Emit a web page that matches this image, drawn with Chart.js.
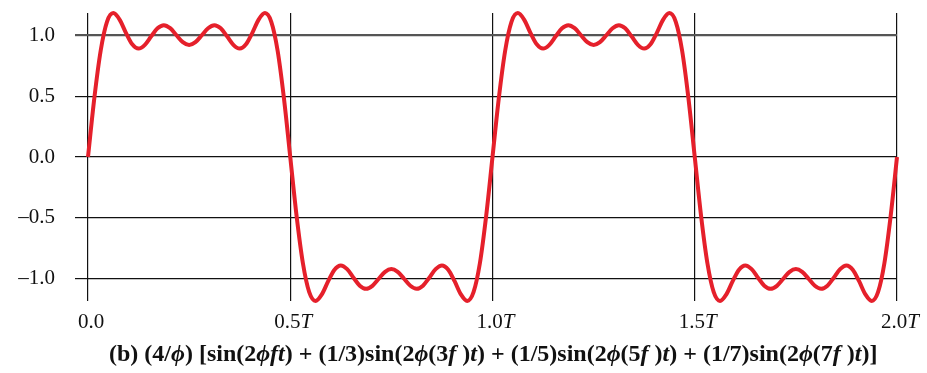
<!DOCTYPE html>
<html>
<head>
<meta charset="utf-8">
<script src="https://cdn.jsdelivr.net/npm/chart.js@4.4.0/dist/chart.umd.min.js"></script>
<style>
    body { margin: 0; background: #fff; }
    #wrap { position: relative; width: 927px; height: 373px; }
    #caption {
        position: absolute;
        left: 109px;
        top: 341px;
        font: bold 24px 'Liberation Serif', 'Times New Roman', serif;
        line-height: 1;
        white-space: nowrap;
        color: #111;
    }
</style>
</head>
<body>
<div id="wrap">
    <canvas id="waveChart" width="927" height="373"></canvas>
    <div id="caption">(b) (4/<i>ϕ</i>) [sin(2<i>ϕft</i>) + (1/3)sin(2<i>ϕ</i>(3<i>f</i> )<i>t</i>) + (1/5)sin(2<i>ϕ</i>(5<i>f</i> )<i>t</i>) + (1/7)sin(2<i>ϕ</i>(7<i>f</i> )<i>t</i>)]</div>
</div>
<script>
// time in units of T
const timeValues = [
    0, 0.0156, 0.0313, 0.0469, 0.0625, 0.0781, 0.0938, 0.1094, 0.125, 0.1406, 0.1563, 0.1719, 0.1875, 0.2031, 0.2188, 0.2344,
    0.25, 0.2656, 0.2813, 0.2969, 0.3125, 0.3281, 0.3438, 0.3594, 0.375, 0.3906, 0.4063, 0.4219, 0.4375, 0.4531, 0.4688, 0.4844,
    0.5, 0.5156, 0.5313, 0.5469, 0.5625, 0.5781, 0.5938, 0.6094, 0.625, 0.6406, 0.6563, 0.6719, 0.6875, 0.7031, 0.7188, 0.7344,
    0.75, 0.7656, 0.7813, 0.7969, 0.8125, 0.8281, 0.8438, 0.8594, 0.875, 0.8906, 0.9063, 0.9219, 0.9375, 0.9531, 0.9688, 0.9844,
    1, 1.0156, 1.0313, 1.0469, 1.0625, 1.0781, 1.0938, 1.1094, 1.125, 1.1406, 1.1563, 1.1719, 1.1875, 1.2031, 1.2188, 1.2344,
    1.25, 1.2656, 1.2813, 1.2969, 1.3125, 1.3281, 1.3438, 1.3594, 1.375, 1.3906, 1.4063, 1.4219, 1.4375, 1.4531, 1.4688, 1.4844,
    1.5, 1.5156, 1.5313, 1.5469, 1.5625, 1.5781, 1.5938, 1.6094, 1.625, 1.6406, 1.6563, 1.6719, 1.6875, 1.7031, 1.7188, 1.7344,
    1.75, 1.7656, 1.7813, 1.7969, 1.8125, 1.8281, 1.8438, 1.8594, 1.875, 1.8906, 1.9063, 1.9219, 1.9375, 1.9531, 1.9688, 1.9844,
    2
];

// summed signal at each time
const signalValues = [
    0, 0.483, 0.874, 1.112, 1.184, 1.131, 1.022, 0.927, 0.892, 0.923, 0.993, 1.059, 1.085, 1.060, 1.002, 0.945,
    0.922, 0.945, 1.002, 1.060, 1.085, 1.059, 0.993, 0.923, 0.892, 0.927, 1.022, 1.131, 1.184, 1.112, 0.874, 0.483,
    0, -0.483, -0.874, -1.112, -1.184, -1.131, -1.022, -0.927, -0.892, -0.923, -0.993, -1.059, -1.085, -1.060, -1.002, -0.945,
    -0.922, -0.945, -1.002, -1.060, -1.085, -1.059, -0.993, -0.923, -0.892, -0.927, -1.022, -1.131, -1.184, -1.112, -0.874, -0.483,
    0, 0.483, 0.874, 1.112, 1.184, 1.131, 1.022, 0.927, 0.892, 0.923, 0.993, 1.059, 1.085, 1.060, 1.002, 0.945,
    0.922, 0.945, 1.002, 1.060, 1.085, 1.059, 0.993, 0.923, 0.892, 0.927, 1.022, 1.131, 1.184, 1.112, 0.874, 0.483,
    0, -0.483, -0.874, -1.112, -1.184, -1.131, -1.022, -0.927, -0.892, -0.923, -0.993, -1.059, -1.085, -1.060, -1.002, -0.945,
    -0.922, -0.945, -1.002, -1.060, -1.085, -1.059, -0.993, -0.923, -0.892, -0.927, -1.022, -1.131, -1.184, -1.112, -0.874, -0.483,
    0
];

const xTicks = [0, 0.5, 1, 1.5, 2];
const xTickLabels = ['0.0', '0.5', '1.0', '1.5', '2.0'];
const yTicks = [-1, -0.5, 0, 0.5, 1];

const serif = "'Liberation Serif', 'Times New Roman', serif";

// x labels need an italic T, so draw them by hand at the scale positions
const xLabelPlugin = {
    id: 'xLabels',
    afterDraw(chart) {
        const ctx = chart.ctx;
        const xs = chart.scales.x;
        ctx.save();
        ctx.fillStyle = '#111';
        ctx.textBaseline = 'alphabetic';
        ctx.textAlign = 'left';
        xTicks.forEach((v, i) => {
            const num = xTickLabels[i];
            const unit = v === 0 ? '' : 'T';
            ctx.font = '21px ' + serif;
            const w1 = ctx.measureText(num).width;
            ctx.font = 'italic 21px ' + serif;
            const w2 = unit ? ctx.measureText(unit).width : 0;
            const left = xs.getPixelForValue(v) + 3 - (w1 + w2) / 2;
            ctx.font = '21px ' + serif;
            ctx.fillText(num, left, 328);
            if (unit) {
                ctx.font = 'italic 21px ' + serif;
                ctx.fillText(unit, left + w1, 328);
            }
        });
        ctx.restore();
    }
};

const ctx = document.getElementById('waveChart').getContext('2d');
new Chart(ctx, {
    type: 'line',
    data: {
        datasets: [{
            data: timeValues.map((t, i) => ({ x: t, y: signalValues[i] })),
            borderColor: '#e5202b',
            borderWidth: 4,
            pointRadius: 0,
            cubicInterpolationMode: 'monotone',
            fill: false,
            clip: false
        }]
    },
    options: {
        responsive: false,
        animation: false,
        events: [],
        layout: { padding: { left: 0, right: 30, top: 13, bottom: 0 } },
        plugins: { legend: { display: false }, tooltip: { enabled: false } },
        scales: {
            x: {
                type: 'linear',
                min: 0,
                max: 2,
                afterBuildTicks: scale => { scale.ticks = xTicks.map(v => ({ value: v })); },
                afterFit: scale => {
                    scale.height = 72;
                    scale.paddingLeft = 0;
                    scale.paddingRight = 0;
                },
                ticks: { display: false },
                border: { display: false },
                grid: { color: '#111', lineWidth: 1.2, drawTicks: false }
            },
            y: {
                min: -1.185,
                max: 1.185,
                afterBuildTicks: scale => { scale.ticks = yTicks.map(v => ({ value: v })); },
                afterFit: scale => {
                    scale.width = 88;
                    scale.paddingTop = 0;
                    scale.paddingBottom = 0;
                },
                border: { display: false },
                grid: {
                    tickLength: 13,
                    color: c => c.tick && c.tick.value === 1 ? '#555' : '#111',
                    lineWidth: c => c.tick && c.tick.value === 1 ? 2.2 : 1.2
                },
                ticks: {
                    padding: 20,
                    color: '#111',
                    font: { family: serif, size: 21 },
                    callback: v => (v < 0 ? '\u2013' : '') + Math.abs(v).toFixed(1)
                }
            }
        }
    },
    plugins: [xLabelPlugin]
});
</script>
</body>
</html>
